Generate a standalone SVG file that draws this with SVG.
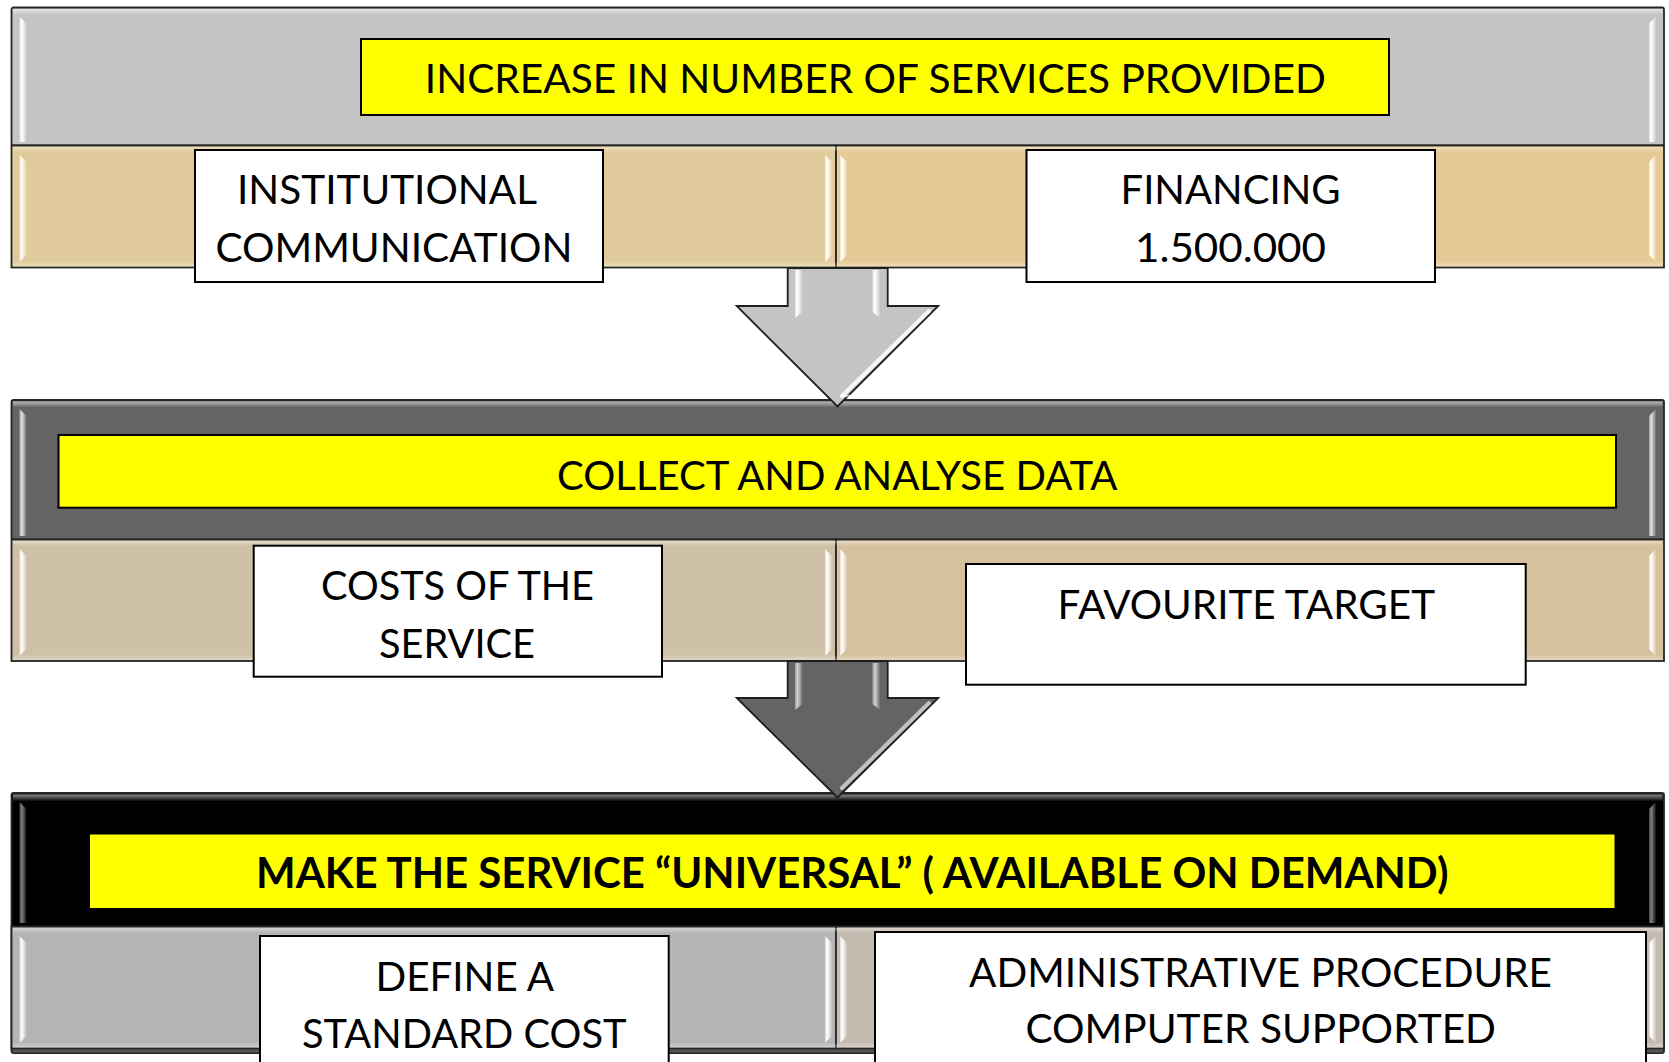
<svg xmlns="http://www.w3.org/2000/svg" width="1669" height="1062" viewBox="0 0 1669 1062">
<defs>
<linearGradient id="hl" x1="0" y1="0" x2="1" y2="0">
<stop offset="0" stop-color="#fff" stop-opacity="0.55"/>
<stop offset="0.35" stop-color="#fff" stop-opacity="1"/>
<stop offset="1" stop-color="#fff" stop-opacity="0.1"/>
</linearGradient>
<linearGradient id="tb" x1="0" y1="0" x2="0" y2="1">
<stop offset="0" stop-color="#fff" stop-opacity="0.55"/>
<stop offset="1" stop-color="#fff" stop-opacity="0"/>
</linearGradient>
<linearGradient id="bb" x1="0" y1="0" x2="0" y2="1">
<stop offset="0" stop-color="#fff" stop-opacity="0"/>
<stop offset="1" stop-color="#fff" stop-opacity="0.35"/>
</linearGradient>
</defs>
<style>
.frame{stroke:#262626;stroke-width:1.8}
.hl{fill:url(#hl)}
.tb{fill:url(#tb)}
.bb{fill:url(#bb)}
.yel{fill:#ffff00;stroke:#000;stroke-width:2}
.box{fill:#fff;stroke:#000;stroke-width:2}
.arrow{stroke:#1e1e1e;stroke-width:1.8;stroke-linejoin:miter}
.ahl{fill:none;stroke:#fff;stroke-linecap:round}
text{font-family:Lato,"Open Sans","Liberation Sans",sans-serif;font-size:41.5px;fill:#000}
.b{font-weight:bold}
</style>
<rect width="1669" height="1062" fill="#fff"/>

<!-- Section 1 -->
<g id="sec1">
<rect class="frame" x="11.5" y="7.5" width="1652.5" height="138" rx="2" fill="#c4c4c4"/>
<rect class="tb" x="13" y="9" width="1649.5" height="6"/>
<polygon class="hl" points="19.5,16.5 26.5,23.5 26.5,142 19.5,142"/>
<polygon class="hl" points="1656,16.5 1649,23.5 1649,142 1656,142"/>
<rect class="frame" x="11.5" y="145.5" width="824.5" height="122" fill="#e1cb9c"/>
<rect class="frame" x="836" y="145.5" width="828" height="122" fill="#e6ca96"/>
<rect class="tb" x="13" y="147" width="1649.5" height="5" opacity="0.7"/>
<rect class="bb" x="13" y="261" width="1649.5" height="5.5"/>
<polygon class="hl" points="19.5,155 26.5,162 26.5,255 19.5,262"/>
<polygon class="hl" points="825,155 832,162 832,255 825,262"/>
<polygon class="hl" points="840,155 847,162 847,255 840,262"/>
<polygon class="hl" points="1656,155 1649,162 1649,255 1656,262"/>
</g>

<!-- Section 2 -->
<g id="sec2">
<rect class="frame" x="11.5" y="400" width="1652.5" height="139.5" rx="2" fill="#646464"/>
<rect class="tb" x="13" y="401.5" width="1649.5" height="6"/>
<g opacity="0.8">
<polygon class="hl" points="19.5,409 26.5,416 26.5,536 19.5,536"/>
<polygon class="hl" points="1656,409 1649,416 1649,536 1656,536"/>
</g>
<rect class="frame" x="11.5" y="539.5" width="824.5" height="121.5" fill="#cfc1a7"/>
<rect class="frame" x="836" y="539.5" width="828" height="121.5" fill="#d6c19d"/>
<rect class="tb" x="13" y="541" width="1649.5" height="5" opacity="0.7"/>
<rect class="bb" x="13" y="654.5" width="1649.5" height="5.5"/>
<polygon class="hl" points="19.5,549 26.5,556 26.5,649 19.5,656"/>
<polygon class="hl" points="825,549 832,556 832,649 825,656"/>
<polygon class="hl" points="840,549 847,556 847,649 840,656"/>
<polygon class="hl" points="1656,549 1649,556 1649,649 1656,656"/>
</g>

<!-- Section 3 -->
<g id="sec3">
<rect class="frame" x="11.5" y="793" width="1652.5" height="260" rx="2" fill="#000"/>
<rect x="12.5" y="1048.5" width="1650.5" height="4" fill="#555"/>
<rect class="tb" x="13" y="794.5" width="1649.5" height="7"/>
<g opacity="0.5">
<polygon class="hl" points="19.5,802 26.5,809 26.5,923 19.5,923"/>
<polygon class="hl" points="1656,802 1649,809 1649,923 1656,923"/>
</g>
<rect class="frame" x="11.5" y="926.5" width="824.5" height="122" fill="#b5b5b5"/>
<rect class="frame" x="836" y="926.5" width="828" height="122" fill="#c3bbaf"/>
<rect class="tb" x="13" y="928" width="1649.5" height="5" opacity="0.7"/>
<rect class="bb" x="13" y="1042" width="1649.5" height="5.5"/>
<polygon class="hl" points="19.5,936 26.5,943 26.5,1036 19.5,1043"/>
<polygon class="hl" points="825,936 832,943 832,1036 825,1043"/>
<polygon class="hl" points="840,936 847,943 847,1036 840,1043"/>
<polygon class="hl" points="1656,936 1649,943 1649,1036 1656,1043"/>
</g>

<!-- Connectors -->
<g id="connectors">
<g id="arrow1">
<path class="arrow" fill="#c4c4c4" d="M787.7,268 L887.7,268 L887.7,306 L938.3,306 L837.5,406.5 L736.7,306 L787.7,306 Z"/>
<polygon class="hl" points="795,270 802.5,270 802.5,312 795,318"/>
<polygon class="hl" points="872.5,270 880,270 880,318 872.5,312"/>
<path class="ahl" stroke-width="4" opacity="0.85" d="M929,311 L842,396"/>
<path class="ahl" stroke-width="2.5" opacity="0.6" d="M842,396 L852,396"/>
</g>
<g id="arrow2">
<path class="arrow" fill="#646464" d="M787.7,661 L887.7,661 L887.7,698 L938.3,698 L837.5,797.5 L736.7,698 L787.7,698 Z"/>
<g opacity="0.7">
<polygon class="hl" points="795,663 802.5,663 802.5,704 795,710"/>
<polygon class="hl" points="872.5,663 880,663 880,710 872.5,704"/>
</g>
<path class="ahl" stroke-width="4" opacity="0.6" d="M929,703 L842,788"/>
</g>
</g>

<!-- Section 1 nodes -->
<g id="title1">
<rect class="yel" x="361" y="39" width="1028" height="76"/>
<text x="424.8" y="93.3" textLength="901" lengthAdjust="spacingAndGlyphs">INCREASE IN NUMBER OF SERVICES PROVIDED</text>
</g>
<g id="institutional">
<rect class="box" x="195" y="150" width="408" height="132"/>
<text x="237" y="204" textLength="300" lengthAdjust="spacingAndGlyphs">INSTITUTIONAL</text>
<text x="215.5" y="262" textLength="357" lengthAdjust="spacingAndGlyphs">COMMUNICATION</text>
</g>
<g id="financing">
<rect class="box" x="1026.5" y="150" width="408.5" height="132"/>
<text x="1120.5" y="204.3" textLength="220" lengthAdjust="spacingAndGlyphs">FINANCING</text>
<text x="1135" y="261.7" textLength="191" lengthAdjust="spacingAndGlyphs">1.500.000</text>
</g>

<!-- Section 2 nodes -->
<g id="title2">
<rect class="yel" x="58.5" y="435" width="1557.5" height="72.7"/>
<text x="557" y="490" textLength="560.5" lengthAdjust="spacingAndGlyphs">COLLECT AND ANALYSE DATA</text>
</g>
<g id="costs">
<rect class="box" x="253.7" y="545.7" width="408.3" height="131"/>
<text x="321" y="600" textLength="273" lengthAdjust="spacingAndGlyphs">COSTS OF THE</text>
<text x="379" y="657.7" textLength="156" lengthAdjust="spacingAndGlyphs">SERVICE</text>
</g>
<g id="target">
<rect class="box" x="966" y="564" width="559.7" height="120.7"/>
<text x="1057.5" y="619.3" textLength="377.5" lengthAdjust="spacingAndGlyphs">FAVOURITE TARGET</text>
</g>

<!-- Section 3 nodes -->
<g id="title3">
<rect x="90" y="834.5" width="1524.5" height="73.5" fill="#ffff00"/>
<text class="b" x="256" y="887.5" textLength="1192.5" lengthAdjust="spacingAndGlyphs">MAKE THE SERVICE “UNIVERSAL” ( AVAILABLE ON DEMAND)</text>
</g>
<g id="standard">
<rect class="box" x="260" y="936" width="408.7" height="140"/>
<text x="375.5" y="990.7" textLength="178.5" lengthAdjust="spacingAndGlyphs">DEFINE A</text>
<text x="302" y="1047.7" textLength="324.5" lengthAdjust="spacingAndGlyphs">STANDARD COST</text>
</g>
<g id="procedure">
<rect class="box" x="875" y="932" width="771" height="144"/>
<text x="969" y="986.7" textLength="583" lengthAdjust="spacingAndGlyphs">ADMINISTRATIVE PROCEDURE</text>
<text x="1025.5" y="1043.3" textLength="470.5" lengthAdjust="spacingAndGlyphs">COMPUTER SUPPORTED</text>
</g>
</svg>
